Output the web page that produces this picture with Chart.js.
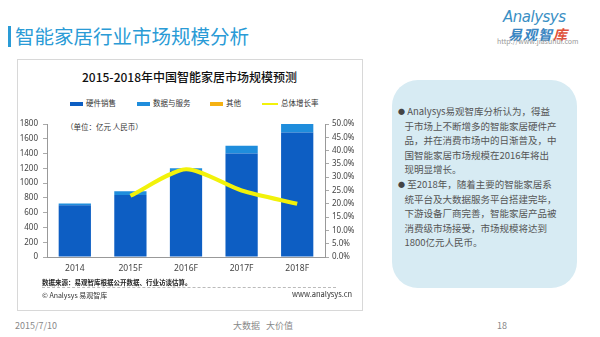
<!DOCTYPE html>
<html>
<head>
<meta charset="utf-8">
<script src="https://cdn.jsdelivr.net/npm/chart.js@4"></script>
<style>
  html,body{margin:0;padding:0;background:#fff;}
  body{width:600px;height:337px;position:relative;overflow:hidden;font-family:"Noto Sans CJK SC","Noto Sans",sans-serif;}
  .abs{position:absolute;white-space:nowrap;}
  #panel{position:absolute;left:17px;top:59px;width:344px;height:250px;border:1px solid #d8d8d8;background:#fff;}
  #wrap{position:absolute;left:17px;top:60px;width:345px;height:250px;}
  .lg{position:absolute;top:99px;font-size:7.5px;color:#333;line-height:8px;}
  .lg i{display:inline-block;vertical-align:middle;margin-right:3px;}
  #box{position:absolute;left:392px;top:80px;width:185px;height:208px;border-radius:26px;background:#d7ebf3;}
  #txt{position:absolute;left:398px;top:104px;font-size:9.5px;line-height:14.6px;color:#555;}
  #txt b{font-weight:normal;font-size:7px;vertical-align:1px;color:#444;}
</style>
</head>
<body>
<div class="abs" style="left:8px;top:26px;width:2.5px;height:21px;background:#2a9bd6;"></div>
<div class="abs" style="left:15px;top:23px;font-size:19.5px;color:#2a9bd6;line-height:26px;">智能家居行业市场规模分析</div>

<div class="abs" style="left:503px;top:8px;font-size:15px;font-style:italic;color:#3a8fc4;font-family:'DejaVu Sans';letter-spacing:-0.5px;">Analysys</div>
<div class="abs" style="left:508px;top:24px;font-size:14px;font-weight:bold;font-style:italic;color:#3a86c2;letter-spacing:1px;">易观智<span style="color:#e0503a">库</span></div>
<div class="abs" style="left:497px;top:36px;font-size:7px;color:#999;">http://www.jiasuhui.com</div>

<div id="panel"></div>
<div class="abs" style="left:17px;width:345px;top:68px;text-align:center;font-size:12px;font-weight:500;color:#111;">2015-2018年中国智能家居市场规模预测</div>

<div class="lg" style="left:70px;"><i style="width:13px;height:4px;background:#0d5ec3;"></i>硬件销售</div>
<div class="lg" style="left:137px;"><i style="width:13px;height:4px;background:#1f8ddc;"></i>数据与服务</div>
<div class="lg" style="left:210px;"><i style="width:13px;height:4px;background:#f5b112;"></i>其他</div>
<div class="lg" style="left:262px;"><i style="width:16px;height:2px;background:#f2f20a;"></i>总体增长率</div>

<div class="abs" style="left:66px;top:121px;font-size:7.5px;color:#333;">（单位：亿元 人民币）</div>

<div id="wrap"><canvas id="c" width="345" height="250"></canvas></div>

<div class="abs" style="left:42px;top:277px;font-size:6.5px;color:#222;font-weight:bold;">数据来源：易观智库根据公开数据、行业访谈估算。</div>
<div class="abs" style="left:42px;top:287px;width:294px;border-top:1px dashed #bbb;"></div>
<div class="abs" style="left:42px;top:290px;font-size:7px;color:#333;">© Analysys 易观智库</div>
<div class="abs" style="left:292px;top:288px;font-size:7.5px;color:#333;">www.analysys.cn</div>

<div id="box"></div>
<div id="txt"><b>●</b> Analysys易观智库分析认为，得益<br>&nbsp;&nbsp;&nbsp;于市场上不断增多的智能家居硬件产<br>&nbsp;&nbsp;&nbsp;品，并在消费市场中的日渐普及，中<br>&nbsp;&nbsp;&nbsp;国智能家居市场规模在2016年将出<br>&nbsp;&nbsp;&nbsp;现明显增长。<br><b>●</b> 至2018年，随着主要的智能家居系<br>&nbsp;&nbsp;&nbsp;统平台及大数据服务平台搭建完毕，<br>&nbsp;&nbsp;&nbsp;下游设备厂商完善，智能家居产品被<br>&nbsp;&nbsp;&nbsp;消费级市场接受，市场规模将达到<br>&nbsp;&nbsp;&nbsp;1800亿元人民币。</div>

<div class="abs" style="left:15px;top:319px;font-size:9px;color:#888;">2015/7/10</div>
<div class="abs" style="left:233px;top:319px;font-size:9px;color:#888;">大数据&nbsp;&nbsp;&nbsp;大价值</div>
<div class="abs" style="left:497px;top:319px;font-size:9px;color:#888;">18</div>

<script>
const categories = ["2014", "2015F", "2016F", "2017F", "2018F"];
const hardwareSales = [700, 840, 1175, 1400, 1685];
const dataServices = [23, 50, 25, 105, 120];
const others = [0, 0, 0, 0, 0];
const growthRate = [null, 23, 33, 25, 20];
const leftTicks = [0, 200, 400, 600, 800, 1000, 1200, 1400, 1600, 1800];
const rightTicks = [0, 5, 10, 15, 20, 25, 30, 35, 40, 45, 50];

new Chart(document.getElementById('c'), {
  type: 'bar',
  data: {
    labels: categories,
    datasets: [
      { type: 'line', label: '总体增长率', data: growthRate, yAxisID: 'y1', borderColor: '#f2f20a', borderWidth: 4, pointRadius: 0, tension: 0.25, order: 0, fill: false },
      { label: '硬件销售', data: hardwareSales, backgroundColor: '#0d5ec3', yAxisID: 'y', order: 1, barPercentage: 0.58, categoryPercentage: 1 },
      { label: '数据与服务', data: dataServices, backgroundColor: '#1f8ddc', yAxisID: 'y', order: 1, barPercentage: 0.58, categoryPercentage: 1 },
      { label: '其他', data: others, backgroundColor: '#f5b112', yAxisID: 'y', order: 1, barPercentage: 0.58, categoryPercentage: 1 }
    ]
  },
  options: {
    responsive: false,
    animation: false,
    layout: { padding: { top: 64, left: 0, right: 0, bottom: 0 } },
    plugins: { legend: { display: false }, tooltip: { enabled: false } },
    scales: {
      x: {
        stacked: true,
        grid: { display: false, drawTicks: false },
        border: { display: true, color: '#999' },
        ticks: { padding: 6, color: '#444', font: { size: 8.5, family: 'Noto Sans' } },
        afterFit: s => { s.height = 53; }
      },
      y: {
        stacked: true,
        position: 'left',
        min: 0, max: 1800,
        afterBuildTicks: s => { s.ticks = leftTicks.map(v => ({ value: v })); },
        grid: { display: true, drawOnChartArea: false, tickLength: 4, color: '#aaa' },
        border: { display: true, color: '#999' },
        ticks: { padding: 5, color: '#444', font: { size: 8, family: 'Noto Sans' }, callback: v => String(v) },
        afterFit: s => { s.width = 30; }
      },
      y1: {
        position: 'right',
        min: 0, max: 50,
        afterBuildTicks: s => { s.ticks = rightTicks.map(v => ({ value: v })); },
        grid: { display: true, drawOnChartArea: false, tickLength: 4, color: '#aaa' },
        border: { display: true, color: '#999' },
        ticks: { padding: 3, color: '#444', font: { size: 8, family: 'Noto Sans' }, callback: v => v.toFixed(1) + '%' },
        afterFit: s => { s.width = 37; }
      }
    }
  }
});
</script>
</body>
</html>
